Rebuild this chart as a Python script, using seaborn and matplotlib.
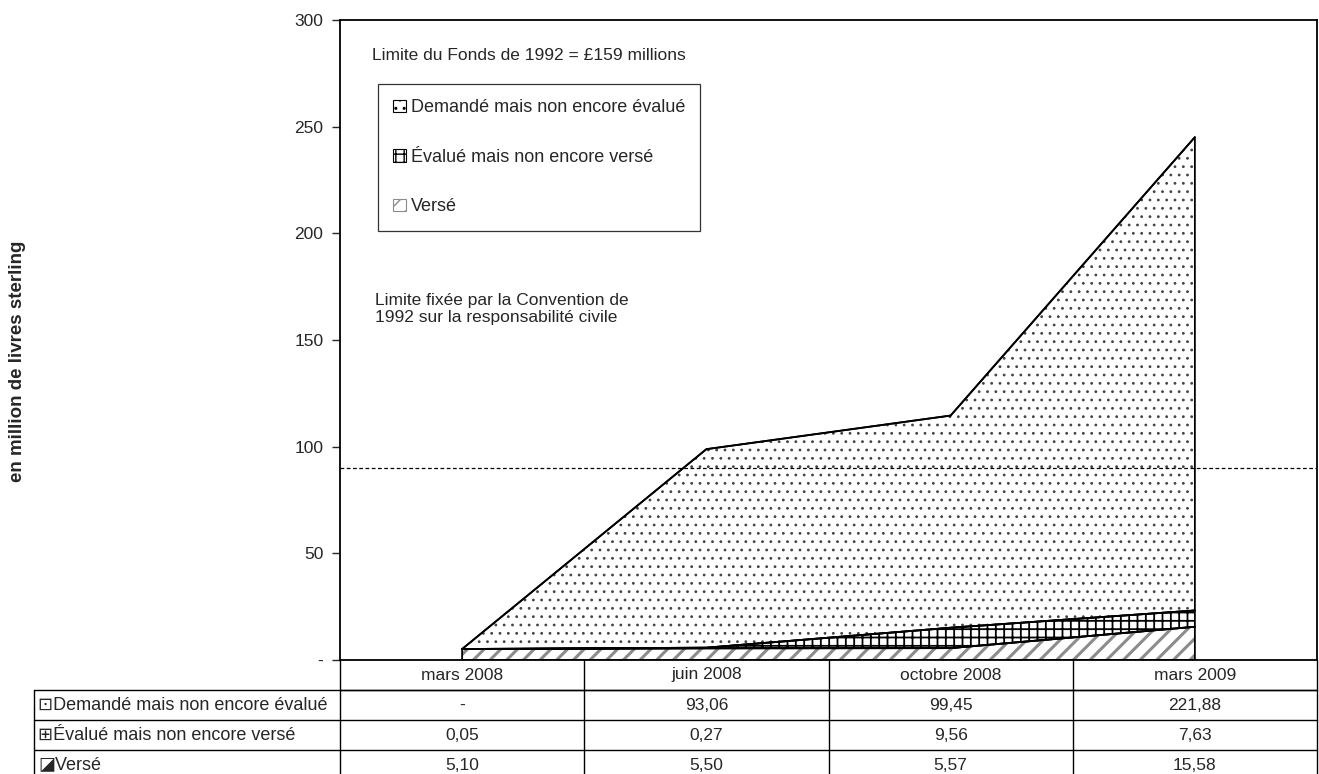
import numpy as np
import pandas as pd
import matplotlib
matplotlib.use("Agg")
import matplotlib.pyplot as plt
import seaborn as sns
from matplotlib.patches import Patch

# données (millions de livres sterling)
periodes = ["mars 2008", "juin 2008", "octobre 2008", "mars 2009"]
verse = [5.10, 5.50, 5.57, 15.58]
evalue = [0.05, 0.27, 9.56, 7.63]
demande = [0.0, 93.06, 99.45, 221.88]
demande_txt = ["-", "93,06", "99,45", "221,88"]
limite_convention = 89.77
yticks = [0, 50, 100, 150, 200, 250, 300]
ytick_labels = ["-", "50", "100", "150", "200", "250", "300"]
series = ["Demandé mais non encore évalué", "Évalué mais non encore versé", "Versé"]

sns.set_style("white")
plt.rcParams['font.family'] = ['Liberation Sans', 'DejaVu Sans']
plt.rcParams['axes.linewidth'] = 1.3

df = pd.DataFrame({"x": range(len(periodes)), "verse": verse,
                   "evalue": evalue, "demande": demande})
df["c1"] = df.verse
df["c2"] = df.c1 + df.evalue
df["c3"] = df.c2 + df.demande

W, H = 1319, 774
fig = plt.figure(figsize=(W / 100, H / 100), dpi=100)
ax = fig.add_axes([340 / W, 1 - 660 / H, 977 / W, 640 / H])

x = df.x.values
zero = np.zeros(len(x))
# aires empilées avec motifs
with plt.rc_context({'hatch.linewidth': 2.2}):
    ax.fill_between(x, zero, df.c1, facecolor="white", edgecolor="#8c8c8c", hatch="//", lw=0)
with plt.rc_context({'hatch.linewidth': 1.3}):
    ax.fill_between(x, df.c1, df.c2, facecolor="white", edgecolor="black", hatch="++", lw=0)
with plt.rc_context({'hatch.linewidth': 0.8}):
    ax.fill_between(x, df.c2, df.c3, facecolor="white", edgecolor="#444444", hatch="..", lw=0)
for lo, hi in [(zero, df.c1), (df.c1, df.c2), (df.c2, df.c3)]:
    ax.fill_between(x, lo, hi, facecolor="none", edgecolor="black", lw=1.3)
for c in ["c1", "c2", "c3"]:
    sns.lineplot(data=df, x="x", y=c, color="black", lw=1.3, ax=ax)

ax.axhline(limite_convention, color="black", ls=(0, (3, 2)), lw=0.9)

ax.set_xlim(-0.5, 3.5)
ax.set_ylim(0, 300)
ax.set_yticks(yticks)
ax.set_yticklabels(ytick_labels, fontsize=12.5)
ax.set_xticks([])
ax.set_xlabel("")
ax.set_ylabel("")
ax.tick_params(axis="y", left=True, length=6, width=1, direction="out", pad=6)
for s in ax.spines.values():
    s.set_color("black")

fig.text(18 / W, 1 - 361 / H, "en million de livres sterling", rotation=90, fontsize=13.5,
         fontweight="bold", ha="center", va="center")

ax.text(0.033, 0.945, "Limite du Fonds de 1992 = £159 millions", transform=ax.transAxes,
        fontsize=12.5, va="center")
ax.text(0.036, 0.548, "Limite fixée par la Convention de\n1992 sur la responsabilité civile",
        transform=ax.transAxes, fontsize=12.5, va="center", linespacing=1.15)

# légende
with plt.rc_context({'hatch.linewidth': 1.0}):
    handles = [Patch(facecolor="white", edgecolor="black", hatch="..", lw=0.8),
               Patch(facecolor="white", edgecolor="black", hatch="++", lw=0.8),
               Patch(facecolor="white", edgecolor="#8c8c8c", hatch="//", lw=0.8)]
leg = ax.legend(handles, series, loc="upper left", bbox_to_anchor=(0.039, 0.9),
                borderaxespad=0, fontsize=13, frameon=True, fancybox=False,
                handlelength=0.7, handleheight=0.7, handletextpad=0.25,
                labelspacing=1.8, borderpad=0.85)
leg.get_frame().set_edgecolor("black")
leg.get_frame().set_linewidth(0.9)

# tableau des valeurs sous le graphique (coordonnées en pixels)
def fmt(v):
    return f"{v:.2f}".replace(".", ",")

cell_text = [demande_txt, [fmt(v) for v in evalue], [fmt(v) for v in verse]]
row_labels = ["⊡Demandé mais non encore évalué", "⊞Évalué mais non encore versé", "◪Versé"]

tax = fig.add_axes([0, 0, 1, 1], facecolor="none")
tax.set_xlim(0, W)
tax.set_ylim(H, 0)
tax.axis("off")

x0, x1 = 34, 340
colw = (1317 - 340) / len(periodes)
col_edges = [x1 + i * colw for i in range(len(periodes) + 1)]
row_edges = [660, 690, 720, 750, 780]
lk = dict(color="black", lw=1.0, clip_on=False)

# lignes horizontales
tax.plot([x1, col_edges[-1]], [row_edges[1]] * 2, **lk)
for r in row_edges[1:4]:
    tax.plot([x0, col_edges[-1]], [r, r], **lk)
# lignes verticales
for cx in col_edges:
    tax.plot([cx, cx], [row_edges[0], row_edges[-1]], **lk)
tax.plot([x0, x0], [row_edges[1], row_edges[-1]], **lk)

for j, p in enumerate(periodes):
    xc = (col_edges[j] + col_edges[j + 1]) / 2
    tax.text(xc, (row_edges[0] + row_edges[1]) / 2, p, ha="center", va="center", fontsize=12.5)
    for i in range(3):
        tax.text(xc, (row_edges[i + 1] + row_edges[i + 2]) / 2, cell_text[i][j],
                 ha="center", va="center", fontsize=12.5)
for i, lab in enumerate(row_labels):
    tax.text(x0 + 4, (row_edges[i + 1] + row_edges[i + 2]) / 2, lab,
             ha="left", va="center", fontsize=13)

fig.savefig("out.png", dpi=100)
